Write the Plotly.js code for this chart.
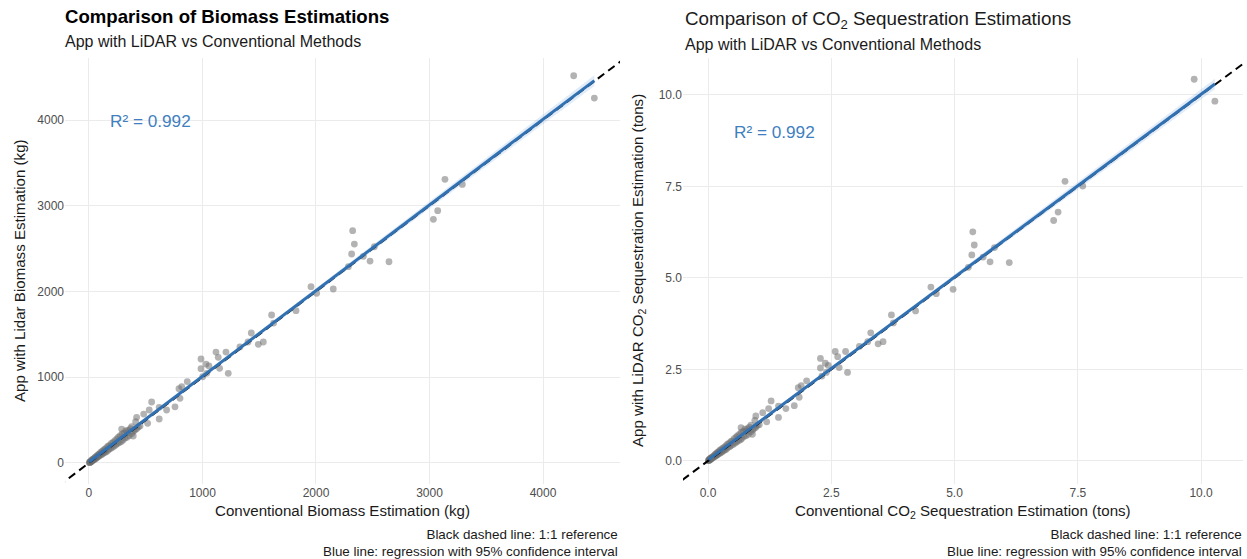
<!DOCTYPE html>
<html>
<head>
<meta charset="utf-8">
<script src="https://cdn.plot.ly/plotly-3.0.1.min.js"></script>
<style>html,body{margin:0;padding:0;background:#fff;}#chart{width:1247px;height:559px;}</style>
</head>
<body>
<div id="chart"></div>
<script>
// ---- Biomass (kg): conventional vs app with LiDAR ----
const bioConv = [4270,4452,3136,3289,3072,3034,2323,2338,2314,2285,2417,2476,2514,2643,1956,2006,2152,1824,1609,1627,
  1430,1401,1330,1492,1536,1119,1207,1139,987,1031,1057,987,1151,1227,1037,1002,866,817,793,802,758,552,531,619,684,619,517,482,420,411,288,376,390,338,
  3,6,9,12,15,18,22,25,28,32,35,40,44,48,52,57,60,65,70,74,78,83,88,92,97,102,108,113,118,124,130,136,142,148,155,162,168,175,182,190,197,205,212,220,228,236,245,252,260,268,275,285,293,300,310,318,326,335,345,355,365,378,392,405,420,435,450];
const bioLidar = [4516,4256,3308,3249,2942,2842,2709,2553,2437,2289,2410,2355,2522,2347,2056,1979,2029,1776,1726,1632,
  1516,1411,1353,1384,1411,1294,1294,1232,1213,1154,1131,1100,1104,1046,1046,1006,950,890,866,754,655,711,618,649,618,513,463,571,533,482,396,423,315,353,
  5,4,12,10,20,14,30,21,35,28,44,36,52,42,61,50,72,58,82,66,90,75,104,84,112,92,128,100,136,110,152,122,160,128,178,140,196,158,206,168,228,182,240,196,262,210,282,226,300,238,318,250,340,268,352,290,378,300,380,318,400,345,370,386,400,420,430];

// ---- CO2 sequestration (tons): conventional vs app with LiDAR ----
const co2Conv = [9.86,10.28,7.24,7.60,7.10,7.01,5.37,5.40,5.35,5.28,5.58,5.72,5.81,6.11,4.52,4.63,4.97,4.21,3.72,3.76,
  3.30,3.24,3.07,3.45,3.55,2.58,2.79,2.63,2.28,2.38,2.44,2.28,2.66,2.83,2.40,2.31,2.00,1.89,1.83,1.85,1.75,1.28,1.23,1.43,1.58,1.43,1.19,1.11,0.97,0.95,0.67,0.87,0.90,0.78,
  0.01,0.01,0.02,0.03,0.03,0.04,0.05,0.06,0.06,0.07,0.08,0.09,0.10,0.11,0.12,0.13,0.14,0.15,0.16,0.17,0.18,0.19,0.20,0.21,0.22,0.24,0.25,0.26,0.27,0.29,0.30,0.31,0.33,0.34,0.36,0.37,0.39,0.40,0.42,0.44,0.46,0.47,0.49,0.51,0.53,0.55,0.57,0.58,0.60,0.62,0.64,0.66,0.68,0.69,0.72,0.73,0.75,0.77,0.80,0.82,0.84,0.87,0.91,0.94,0.97,1.00,1.04];
const co2Lidar = [10.43,9.83,7.64,7.51,6.80,6.57,6.26,5.90,5.63,5.29,5.57,5.44,5.83,5.42,4.75,4.57,4.69,4.10,3.99,3.77,
  3.50,3.26,3.13,3.20,3.26,2.99,2.99,2.85,2.80,2.67,2.61,2.54,2.55,2.42,2.42,2.32,2.19,2.06,2.00,1.74,1.51,1.64,1.43,1.50,1.43,1.19,1.07,1.32,1.23,1.11,0.91,0.98,0.73,0.82,
  0.01,0.01,0.03,0.02,0.05,0.03,0.07,0.05,0.08,0.06,0.10,0.08,0.12,0.10,0.14,0.12,0.17,0.13,0.19,0.15,0.21,0.17,0.24,0.19,0.26,0.21,0.30,0.23,0.31,0.25,0.35,0.28,0.37,0.30,0.41,0.32,0.45,0.36,0.48,0.39,0.53,0.42,0.55,0.45,0.61,0.49,0.65,0.52,0.69,0.55,0.73,0.58,0.79,0.62,0.81,0.67,0.87,0.69,0.88,0.73,0.92,0.80,0.85,0.89,0.92,0.97,0.99];

const bioTicks = [0,1000,2000,3000,4000];
const bioTickText = ["0","1000","2000","3000","4000"];
const co2Ticks = [0,2.5,5,7.5,10];
const co2TickText = ["0.0","2.5","5.0","7.5","10.0"];
const r2Bio = "R² = 0.992";
const r2Co2 = "R² = 0.992";

// ---- helpers ----
function fit(x, y) {
  const n = x.length;
  const mx = x.reduce((a,b)=>a+b,0)/n, my = y.reduce((a,b)=>a+b,0)/n;
  let sxx=0, sxy=0;
  for (let i=0;i<n;i++){ sxx+=(x[i]-mx)**2; sxy+=(x[i]-mx)*(y[i]-my); }
  const b = sxy/sxx, a = my - b*mx;
  let sse=0; for (let i=0;i<n;i++){ sse += (y[i]-a-b*x[i])**2; }
  const s = Math.sqrt(sse/(n-2));
  const xmin = Math.min(...x), xmax = Math.max(...x);
  const xs=[], ys=[], lo=[], hi=[];
  for (let k=0;k<=80;k++){
    const xv = xmin + (xmax-xmin)*k/80;
    const yv = a + b*xv;
    const se = s*Math.sqrt(1/n + (xv-mx)**2/sxx);
    xs.push(xv); ys.push(yv); lo.push(yv-1.98*se); hi.push(yv+1.98*se);
  }
  return {xs, ys, lo, hi};
}

const W=1247, H=559;
const px = v => v/W, py = v => 1 - v/H;
const blue = '#3171b2';
const ptColor = 'rgba(110,110,110,0.52)';

function panelTraces(x, y, xa, ya, lim) {
  const f = fit(x, y);
  return [
    {x, y, xaxis:xa, yaxis:ya, type:'scatter', mode:'markers',
     marker:{size:6.8, color:ptColor, line:{width:0}}, hoverinfo:'skip', showlegend:false},
    {x:lim, y:lim, xaxis:xa, yaxis:ya, type:'scatter', mode:'lines',
     line:{color:'#000', width:2, dash:'8px,5px'}, hoverinfo:'skip', showlegend:false},
    {x:f.xs, y:f.lo, xaxis:xa, yaxis:ya, type:'scatter', mode:'lines',
     line:{width:0, color:'rgba(0,0,0,0)'}, hoverinfo:'skip', showlegend:false},
    {x:f.xs, y:f.hi, xaxis:xa, yaxis:ya, type:'scatter', mode:'lines', fill:'tonexty',
     fillcolor:'rgba(90,150,215,0.18)', line:{width:0, color:'rgba(0,0,0,0)'}, hoverinfo:'skip', showlegend:false},
    {x:f.xs, y:f.ys, xaxis:xa, yaxis:ya, type:'scatter', mode:'lines',
     line:{color:blue, width:3}, hoverinfo:'skip', showlegend:false}
  ];
}

const data = [
  ...panelTraces(bioConv, bioLidar, 'x', 'y', [-1000, 6000]),
  ...panelTraces(co2Conv, co2Lidar, 'x2', 'y2', [-2, 14])
];

const font = 'Liberation Sans, Arial, sans-serif';
const axisBase = {
  showline:false, zeroline:false, showgrid:true, gridcolor:'#ebebeb', gridwidth:1,
  ticks:'', tickfont:{family:font, size:12, color:'#4d4d4d'},
  automargin:false, fixedrange:true
};
const yDom = [py(484), py(58)];

function ann(text, x, y, opts) {
  return Object.assign({text, x:px(x), y:py(y), xref:'paper', yref:'paper', showarrow:false,
    font:{family:font, size:15.1, color:'#1a1a1a'}}, opts||{});
}

const layout = {
  width:W, height:H, margin:{l:0,r:0,t:0,b:0},
  paper_bgcolor:'#fff', plot_bgcolor:'#fff', showlegend:false,
  font:{family:font},
  xaxis: Object.assign({}, axisBase, {domain:[px(65), px(620)], range:[-211, 4678], tickvals:bioTicks, ticktext:bioTickText, anchor:'y'}),
  yaxis: Object.assign({}, axisBase, {domain:yDom, range:[-245, 4723], tickvals:bioTicks, ticktext:bioTickText, anchor:'x'}),
  xaxis2: Object.assign({}, axisBase, {domain:[px(683), px(1243)], range:[-0.507, 10.85], tickvals:co2Ticks, ticktext:co2TickText, anchor:'y2'}),
  yaxis2: Object.assign({}, axisBase, {domain:yDom, range:[-0.63, 11.01], tickvals:co2Ticks, ticktext:co2TickText, anchor:'x2'}),
  annotations: [
    ann('<b>Comparison of Biomass Estimations</b>', 63, 17, {xanchor:'left', yanchor:'middle', font:{family:font, size:18.6, color:'#000'}}),
    ann('App with LiDAR vs Conventional Methods', 63, 41, {xanchor:'left', yanchor:'middle', font:{family:font, size:16, color:'#1a1a1a'}}),
    ann('Comparison of CO<sub>2</sub> Sequestration Estimations', 683, 20, {xanchor:'left', yanchor:'middle', font:{family:font, size:18.8, color:'#1a1a1a'}}),
    ann('App with LiDAR vs Conventional Methods', 683, 45, {xanchor:'left', yanchor:'middle', font:{family:font, size:16, color:'#1a1a1a'}}),
    ann('Conventional Biomass Estimation (kg)', 342, 510, {xanchor:'center', yanchor:'middle'}),
    ann('App with Lidar Biomass Estimation (kg)', 19, 271, {xanchor:'center', yanchor:'middle', textangle:-90}),
    ann('Conventional CO<sub>2</sub> Sequestration Estimation (tons)', 963, 511, {xanchor:'center', yanchor:'middle'}),
    ann('App with LiDAR CO<sub>2</sub> Sequestration Estimation (tons)', 638, 271, {xanchor:'center', yanchor:'middle', textangle:-90}),
    ann('Black dashed line: 1:1 reference<br>Blue line: regression with 95% confidence interval', 620, 543, {xanchor:'right', yanchor:'middle', align:'right', font:{family:font, size:13.4, color:'#1a1a1a'}}),
    ann('Black dashed line: 1:1 reference<br>Blue line: regression with 95% confidence interval', 1244, 543, {xanchor:'right', yanchor:'middle', align:'right', font:{family:font, size:13.4, color:'#1a1a1a'}}),
    {text:r2Bio, x:540, y:3990, xref:'x', yref:'y', showarrow:false, xanchor:'center', yanchor:'middle', font:{family:font, size:17.2, color:'#3f7fc0'}},
    {text:r2Co2, x:1.34, y:8.99, xref:'x2', yref:'y2', showarrow:false, xanchor:'center', yanchor:'middle', font:{family:font, size:17.2, color:'#3f7fc0'}}
  ]
};

Plotly.newPlot('chart', data, layout, {staticPlot:true, displayModeBar:false});
</script>
</body>
</html>
